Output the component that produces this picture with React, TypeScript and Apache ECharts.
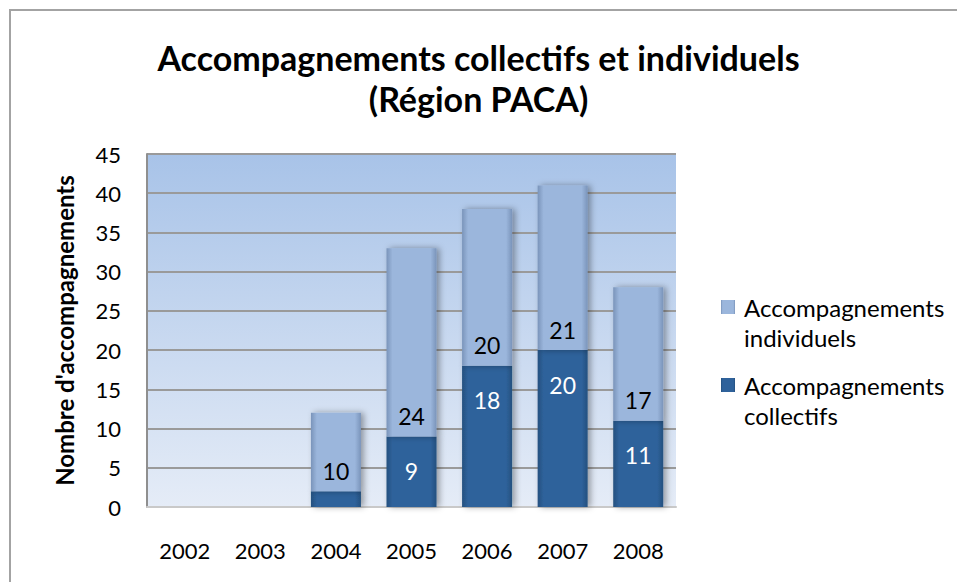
import React, { useEffect, useRef } from "react";
import * as echarts from "echarts";

const years = ["2002", "2003", "2004", "2005", "2006", "2007", "2008"];
const collectifs: (number | null)[] = [null, null, 2, 9, 18, 20, 11];
const individuels: (number | null)[] = [null, null, 10, 24, 20, 21, 17];
const yTicks = { min: 0, max: 45, interval: 5 };
const titleText = "Accompagnements collectifs et individuels\n(Région PACA)";
const yAxisTitle = "Nombre d'accompagnements";
const nameCollectifs = "Accompagnements collectifs";
const nameIndividuels = "Accompagnements individuels";

const FONT = "Lato, 'Liberation Sans', sans-serif";

export default function App() {
  const ref = useRef<HTMLDivElement>(null);
  useEffect(() => {
    if (!ref.current) return;
    const chart = echarts.init(ref.current, undefined, { renderer: "svg" });
    const hGrad = (edge: string, mid: string) =>
      new echarts.graphic.LinearGradient(0, 0, 1, 0, [
        { offset: 0, color: edge },
        { offset: 0.12, color: mid },
        { offset: 0.88, color: mid },
        { offset: 1, color: edge },
      ]);
    chart.setOption({
      animation: false,
      backgroundColor: "#ffffff",
      textStyle: { fontFamily: FONT },
      title: {
        text: titleText,
        left: "center",
        top: 32,
        textStyle: {
          fontFamily: FONT,
          fontWeight: "bold",
          fontSize: 34,
          lineHeight: 41,
          color: "#000",
        },
      },
      graphic: [
        {
          type: "rect",
          shape: { x: 10, y: 10, width: 1000, height: 700 },
          style: { fill: "none", stroke: "#a3a3a3", lineWidth: 2 },
          silent: true,
        },
      ],
      legend: {
        orient: "vertical",
        left: 716,
        top: 257,
        itemWidth: 14,
        itemHeight: 14,
        itemGap: -12,
        icon: "rect",
        data: [nameIndividuels, nameCollectifs],
        formatter: (n: string) => "\n" + n.replace(" ", "\n"),
        textStyle: { fontFamily: FONT, fontSize: 24, lineHeight: 30, color: "#000", padding: [0, 0, 0, 4] },
      },
      grid: {
        left: 147,
        right: 281,
        top: 154,
        bottom: 75,
        show: true,
        borderWidth: 0,
        backgroundColor: new echarts.graphic.LinearGradient(0, 0, 0, 1, [
          { offset: 0, color: "#a8c3e8" },
          { offset: 1, color: "#e5ecf7" },
        ]),
      },
      xAxis: {
        type: "category",
        data: years,
        axisTick: { show: false },
        axisLine: { show: true, lineStyle: { color: "#c9c9c9", width: 2 } },
        axisLabel: { fontFamily: FONT, fontSize: 22, color: "#000", margin: 32 },
      },
      yAxis: {
        type: "value",
        min: yTicks.min,
        max: yTicks.max,
        interval: yTicks.interval,
        name: yAxisTitle,
        nameLocation: "middle",
        nameGap: 71,
        nameTextStyle: { fontFamily: FONT, fontSize: 24, fontWeight: "bold", color: "#000" },
        axisLine: { show: true, lineStyle: { color: "#8f8f8f", width: 2 } },
        axisTick: { show: false },
        axisLabel: { fontFamily: FONT, fontSize: 22, color: "#000", margin: 26 },
        splitLine: { show: true, lineStyle: { color: "#9a9a9a", width: 2 } },
      },
      series: [
        {
          name: nameCollectifs,
          type: "bar",
          stack: "total",
          barWidth: 50,
          data: collectifs,
          itemStyle: {
            color: hGrad("#24507f", "#2f629b"),
            shadowColor: "rgba(0,0,0,0.35)",
            shadowBlur: 6,
            shadowOffsetX: 3,
          },
          label: {
            show: true,
            position: "insideTop",
            distance: 23,
            color: "#ffffff",
            fontFamily: FONT,
            fontSize: 23,
            formatter: (p: any) => (p.value >= 5 ? String(p.value) : ""),
          },
        },
        {
          name: nameIndividuels,
          type: "bar",
          stack: "total",
          barWidth: 50,
          data: individuels,
          itemStyle: {
            color: hGrad("#7a94ba", "#9bb6dc"),
            shadowColor: "rgba(0,0,0,0.35)",
            shadowBlur: 6,
            shadowOffsetX: 3,
          },
          label: {
            show: true,
            position: "insideBottom",
            distance: 9,
            color: "#000000",
            fontFamily: FONT,
            fontSize: 23,
          },
        },
      ],
    });
    return () => chart.dispose();
  }, []);
  return (
    <div
      ref={ref}
      style={{ position: "fixed", left: 0, top: 0, width: 957, height: 582 }}
    />
  );
}
